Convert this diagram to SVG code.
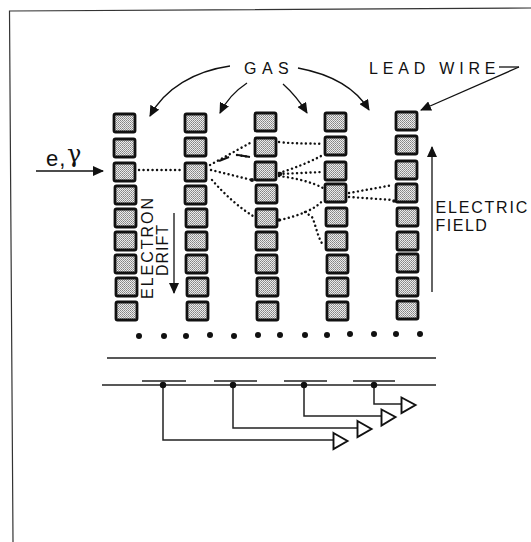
<svg xmlns="http://www.w3.org/2000/svg" width="531" height="542" viewBox="0 0 531 542">
<style>
.t{font-family:"Liberation Sans",Arial,sans-serif;fill:#111;font-size:16px}
.c{fill:none;stroke:#111;stroke-width:1.3}
.d{fill:none;stroke:#111;stroke-width:2.4;stroke-linecap:round;stroke-dasharray:.1 4.4}
.w{fill:url(#st);stroke:#111;stroke-width:2.8}
.o{fill:#fff;stroke:#111;stroke-width:1.9}
.l{fill:none;stroke:#222;stroke-width:1.5}
</style>
<defs>
<pattern id="st" width="2" height="2" patternUnits="userSpaceOnUse"><rect width="2" height="2" fill="#ececec"/><rect width="1" height="1" fill="#848484"/><rect x="1" y="1" width="1" height="1" fill="#999"/></pattern>
<marker id="a" markerWidth="12" markerHeight="10" refX="10" refY="5" orient="auto" markerUnits="userSpaceOnUse"><path d="M0 0L11 5L0 10Z" fill="#111"/></marker>
<rect id="s" width="21" height="18" rx="1.5" class="w"/>
</defs>
<rect width="531" height="542" fill="#fff"/>
<path d="M531 8L9.500 11L13 542" fill="none" stroke="#333" stroke-width="1.2"/>
<g id="col1"><use href="#s" x="114" y="114"/><use href="#s" x="114" y="139"/><use href="#s" x="114" y="163"/><use href="#s" x="115" y="186"/><use href="#s" x="115" y="209"/><use href="#s" x="115" y="232"/><use href="#s" x="115" y="255"/><use href="#s" x="116" y="278"/><use href="#s" x="116" y="302"/></g>
<g id="col2"><use href="#s" x="185" y="114"/><use href="#s" x="185" y="138"/><use href="#s" x="185" y="163"/><use href="#s" x="185" y="186"/><use href="#s" x="186" y="209"/><use href="#s" x="186" y="232"/><use href="#s" x="186" y="255"/><use href="#s" x="187" y="278"/><use href="#s" x="187" y="302"/></g>
<g id="col3"><use href="#s" x="255" y="113"/><use href="#s" x="255" y="138"/><use href="#s" x="255" y="162"/><use href="#s" x="256" y="185"/><use href="#s" x="256" y="209"/><use href="#s" x="256" y="232"/><use href="#s" x="256" y="255"/><use href="#s" x="257" y="278"/><use href="#s" x="257" y="302"/></g>
<g id="col4"><use href="#s" x="325" y="113"/><use href="#s" x="325" y="137"/><use href="#s" x="325" y="162"/><use href="#s" x="325" y="184"/><use href="#s" x="326" y="208"/><use href="#s" x="326" y="232"/><use href="#s" x="327" y="255"/><use href="#s" x="327" y="278"/><use href="#s" x="327" y="302"/></g>
<g id="col5"><use href="#s" x="396" y="112"/><use href="#s" x="396" y="136"/><use href="#s" x="396" y="161"/><use href="#s" x="396" y="184"/><use href="#s" x="397" y="208"/><use href="#s" x="397" y="232"/><use href="#s" x="397" y="254"/><use href="#s" x="397" y="278"/><use href="#s" x="397" y="301"/></g>
<g id="drift-dots" fill="#111"><circle cx="139" cy="336" r="3"/><circle cx="164" cy="336" r="3"/><circle cx="186" cy="336" r="3"/><circle cx="210" cy="335" r="3"/><circle cx="234" cy="336" r="3"/><circle cx="258" cy="335" r="3"/><circle cx="280" cy="335" r="3"/><circle cx="305" cy="335" r="3"/><circle cx="327" cy="335" r="3"/><circle cx="350" cy="334" r="3"/><circle cx="374" cy="334" r="3"/><circle cx="396" cy="334" r="3"/><circle cx="420" cy="334" r="3"/></g>
<g id="connectors">
<path class="c" d="M230 66C195 71 165 88 150 116" marker-end="url(#a)"/>
<path class="c" d="M247 83C235 91 227 99 220 113" marker-end="url(#a)"/>
<path class="c" d="M283 84C292 92 299 100 307 113" marker-end="url(#a)"/>
<path class="c" d="M298 68C330 74 355 87 369 110" marker-end="url(#a)"/>
<path class="c" d="M519 67L421 110" marker-end="url(#a)"/>
<path class="c" d="M499 67H519"/>
<path class="c" d="M36 171H103" marker-end="url(#a)"/>
<path class="c" d="M432 292V147" marker-end="url(#a)"/>
<path class="c" d="M174 213V293" marker-end="url(#a)"/>
<path class="d" d="M139 170H180"/>
<path class="d" d="M210 165L250 143M237 155L250 157"/>
<path fill="none" stroke="#111" stroke-width="2.2" d="M219 161L229 157M238 155L250 157"/>
<path class="d" d="M211 170L252 180"/>
<path class="d" d="M212 180C225 195 240 208 253 216"/>
<path class="d" d="M279 142C295 144 305 143 323 144"/>
<path class="d" d="M279 173C295 168 310 162 323 155"/>
<path class="d" d="M279 174L323 172"/>
<path class="d" d="M279 176C295 178 312 182 323 188"/>
<path class="d" d="M280 220C297 216 315 210 323 200"/>
<path class="d" d="M305 212L312 217C316 225 317 236 323 245"/>
<path class="d" d="M349 193L393 185M349 197L393 200"/>
<circle cx="252" cy="180" r="2" fill="#111"/><circle cx="280" cy="174" r="2.200" fill="#111"/><circle cx="279" cy="220" r="1.800" fill="#111"/><circle cx="394" cy="201" r="1.800" fill="#111"/>
<path class="l" d="M107 358H436M102 385H436M142 381H186M214 381H257M284 381H327M353 381H395"/>
<path class="l" d="M163 385V440H333M233 385V428H357M304 385V416H381M374 385V404H401"/>
<circle cx="163" cy="385" r="3.200" fill="#111"/><circle cx="233" cy="385" r="3.200" fill="#111"/><circle cx="304" cy="385" r="3.200" fill="#111"/><circle cx="374" cy="385" r="3.200" fill="#111"/>
<path class="o" d="M333.500 433L347.500 441L333.500 449Z"/><path class="o" d="M357.500 421L371.500 429L357.500 437Z"/><path class="o" d="M381.500 409.500L395.500 417L381.500 425.500Z"/><path class="o" d="M401.500 397.500L415.500 405L401.500 413Z"/>
</g>
<g id="labels">
<text class="t" x="244" y="74" letter-spacing="5.500">GAS</text>
<text class="t" x="369" y="74" letter-spacing="4.800">LEAD WIRE</text>
<text x="46" y="166" font-family="Liberation Sans,Arial,sans-serif" font-size="22" fill="#111" letter-spacing="1">e,</text>
<text x="67" y="162" font-family="DejaVu Serif,serif" font-size="24" fill="#111">γ</text>
<text class="t" x="435.500" y="213" letter-spacing="1.800">ELECTRIC</text>
<text class="t" x="435.500" y="231" letter-spacing="1.500">FIELD</text>
<text class="t" transform="translate(153 299) rotate(-90)" letter-spacing="2">ELECTRON</text>
<text class="t" transform="translate(168 276) rotate(-90)" letter-spacing="1">DRIFT</text>
</g>
</svg>
